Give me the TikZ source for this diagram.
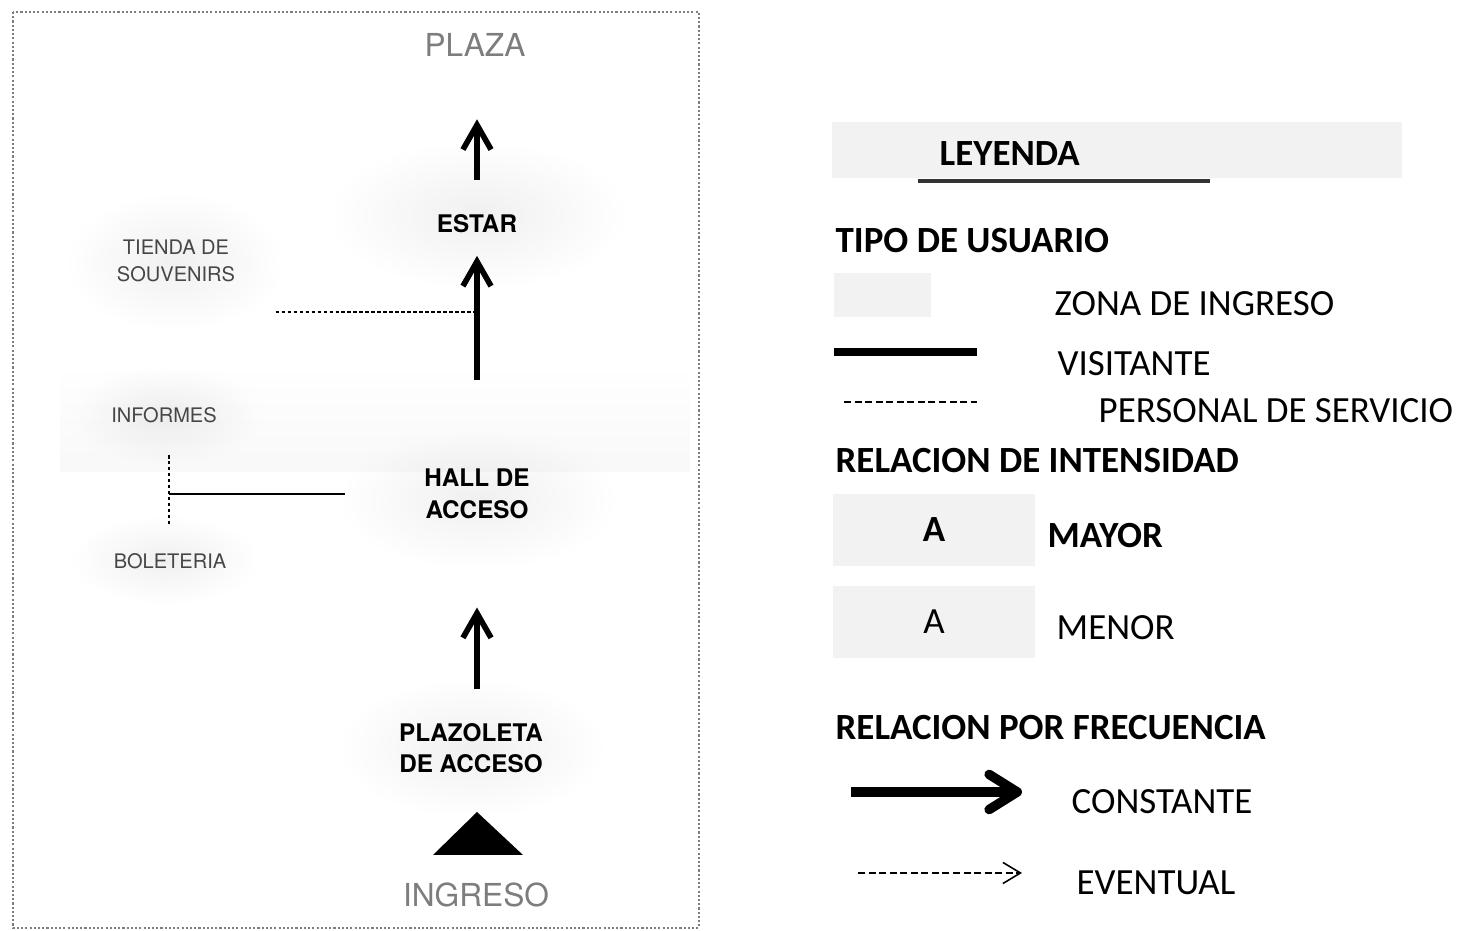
\documentclass[tikz,border=0pt]{standalone}
\usepackage{fontspec}
\setmainfont{Carlito}
\newfontfamily\plano{TeX Gyre Heros}
\usetikzlibrary{arrows.meta,calc}
\definecolor{ZonaClr}{RGB}{242,242,242}
\definecolor{GrisClr}{RGB}{125,125,125}
\definecolor{TextoClr}{RGB}{70,70,70}
\newlength\pxl
\setlength\pxl{0.28453pt}

\tikzset{
  mancha/.style={shade,inner color=gray!12,outer color=white},
  espacio/.style={font=\plano\bfseries\fontsize{6.9}{9}\selectfont,align=center,inner sep=0pt},
  anexo/.style={font=\plano\fontsize{5.7}{7.8}\selectfont,text=TextoClr,align=center,inner sep=0pt},
  externo/.style={font=\plano\fontsize{9}{11}\selectfont,text=GrisClr,inner sep=0pt},
  flujo/.style={line width=1.6pt,-{Straight Barb[length=7pt,width=8pt]}},
  servicio/.style={line width=0.5pt,dash pattern=on 1pt off 0.7pt},
  titulo/.style={font=\bfseries\fontsize{10.5}{12}\selectfont,anchor=west,inner sep=0pt},
  texto/.style={font=\fontsize{10.5}{12}\selectfont,anchor=west,inner sep=0pt},
  muestra/.style={fill=ZonaClr,draw=none}
}

\begin{document}
\begin{tikzpicture}[x=0.01cm,y=-0.01cm]
\useasboundingbox (0,0) rectangle (1459,931);

\path[mancha] (478,215) ellipse (150 and 75);
\path[mancha] (175,262) ellipse (110 and 70);
\path[mancha] (165,415) ellipse (95 and 50);
\path[mancha] (478,500) ellipse (140 and 70);
\path[mancha] (165,560) ellipse (95 and 45);
\path[mancha] (472,748) ellipse (135 and 70);
\foreach \i in {0,...,5}
  \fill[gray,fill opacity=0.008] (60,372+16*\i) rectangle (690,472);

\draw[GrisClr,line width=0.6pt,dash pattern=on 0.6pt off 0.6pt] (13,12) rectangle (699,928);

\node[externo] (plaza) at (475,45) {PLAZA};
\node[espacio] (estar) at (477,224) {ESTAR};
\node[anexo] (tienda) at (176,261) {TIENDA DE\\SOUVENIRS};
\node[anexo] (informes) at (164,415) {INFORMES};
\node[espacio] (hall) at (477,494) {HALL DE\\ACCESO};
\node[anexo] (boleteria) at (170,561) {BOLETERIA};
\node[espacio] (plazoleta) at (471,748) {PLAZOLETA\\DE ACCESO};
\node[externo] (ingreso) at (476,895) {INGRESO};
\coordinate (caseta) at (169,494);

\draw[flujo,shorten <=34\pxl,shorten >=62\pxl] (estar.north) -- (plaza.south -| estar);
\draw[flujo,shorten <=88\pxl,shorten >=22\pxl] (hall.north) -- (estar.south);
\draw[flujo,shorten <=33\pxl,shorten >=88\pxl] (plazoleta.north -| hall) -- (hall.south);

\draw[servicio] (tienda.east |- 0,312) ++(40,0) -- (estar.south |- 0,312);
\draw[servicio] (caseta) ++(0,-39) -- ++(0,70);
\draw[line width=0.5pt] (caseta) -- ++(176,0);

\fill (477,812) -- (523,855) -- (433,855) -- cycle;

\fill[ZonaClr] (832,122) rectangle (1402,178);
\node[titulo] (leyenda) at (939,154) {LEYENDA};
\draw[line width=1pt,gray!40!black] (918,181) -- (1210,181);

\node[titulo] (usuario) at (835,241) {TIPO DE USUARIO};
\fill[muestra] (834,273) rectangle (931,317);
\node[texto] (zona) at (1054,304) {ZONA DE INGRESO};
\draw[line width=2.3pt] (834,352) -- (977,352);
\node[texto] (visitante) at (1057,364) {VISITANTE};
\draw[line width=0.5pt,dash pattern=on 2pt off 1pt] (844,402) -- (977,402);
\node[texto] (personal) at (1098,411) {PERSONAL DE SERVICIO};

\node[titulo] (intensidad) at (835,461) {RELACION DE INTENSIDAD};
\fill[muestra] (833,494) rectangle (1035,566);
\node[font=\bfseries\fontsize{10.5}{12}\selectfont] (amayor) at (934,530) {A};
\node[titulo] (mayor) at (1047,536) {MAYOR};
\fill[muestra] (833,586) rectangle (1035,658);
\node[font=\fontsize{10.5}{12}\selectfont] (amenor) at (934,622) {A};
\node[texto] (menor) at (1056,628) {MENOR};

\node[titulo] (frecuencia) at (835,728) {RELACION POR FRECUENCIA};
\coordinate (c1) at (851,792);
\coordinate (c2) at (1022,792);
\draw[line width=2.7pt,-{Straight Barb[length=8pt,width=10pt,line cap=round,line join=round]}] (c1) -- (c2);
\node[texto] (constante) at (1071,802) {CONSTANTE};
\coordinate (e1) at (858,873);
\coordinate (e2) at (1022,873);
\draw[line width=0.45pt,dash pattern=on 2pt off 1pt,-{Straight Barb[length=5pt,width=6pt]}] (e1) -- (e2);
\node[texto] (eventual) at (1076,883) {EVENTUAL};
\end{tikzpicture}
\end{document}
